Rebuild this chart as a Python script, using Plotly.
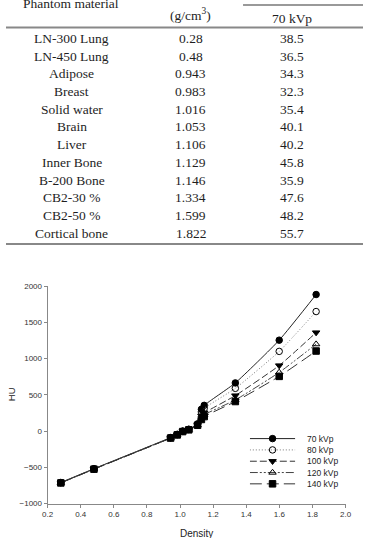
import plotly.graph_objects as go

W, H = 369, 538

# ---------------- data ----------------
materials = ["LN-300 Lung", "LN-450 Lung", "Adipose", "Breast", "Solid water", "Brain",
             "Liver", "Inner Bone", "B-200 Bone", "CB2-30 %", "CB2-50 %", "Cortical bone"]
density_labels = ["0.28", "0.48", "0.943", "0.983", "1.016", "1.053",
                  "1.106", "1.129", "1.146", "1.334", "1.599", "1.822"]
table_70kvp = ["38.5", "36.5", "34.3", "32.3", "35.4", "40.1",
               "40.2", "45.8", "35.9", "47.6", "48.2", "55.7"]

densities = [0.28, 0.48, 0.943, 0.983, 1.016, 1.053, 1.106, 1.129, 1.146, 1.334, 1.599, 1.822]
hu_70 = [-710, -520, -90, -45, 0, 25, 100, 300, 355, 665, 1255, 1885]
hu_80 = [-712, -522, -92, -48, -3, 22, 92, 265, 315, 590, 1100, 1650]
hu_100 = [-714, -524, -95, -50, -5, 20, 86, 210, 250, 490, 905, 1360]
hu_120 = [-715, -525, -96, -52, -6, 18, 82, 185, 225, 430, 810, 1200]
hu_140 = [-716, -526, -97, -53, -7, 17, 80, 160, 200, 408, 755, 1105]
series_names = ["70 kVp", "80 kVp", "100 kVp", "120 kVp", "140 kVp"]
series_values = [hu_70, hu_80, hu_100, hu_120, hu_140]

x_ticks = [0.2, 0.4, 0.6, 0.8, 1.0, 1.2, 1.4, 1.6, 1.8, 2.0]
y_ticks = [-1000, -500, 0, 500, 1000, 1500, 2000]

# ---------------- styles ----------------
styles = [
    dict(dash="solid", color="#222", symbol="circle", mcolor="#000"),
    dict(dash="1px,2px", color="#777", symbol="circle-open", mcolor="#000"),
    dict(dash="7px,3px", color="#333", symbol="triangle-down", mcolor="#000"),
    dict(dash="8px,2px,2px,2px,2px,2px", color="#444", symbol="triangle-up-open", mcolor="#000"),
    dict(dash="12px,5px", color="#333", symbol="square", mcolor="#000"),
]

def py(p):
    return 1 - p / H

def px(p):
    return p / W

fig = go.Figure()

for name, vals, st in zip(series_names, series_values, styles):
    fig.add_trace(go.Scatter(
        x=densities, y=vals, mode="lines+markers", name=name, showlegend=False,
        line=dict(color=st["color"], width=1, dash=st["dash"], shape="spline", smoothing=0.5),
        marker=dict(symbol=st["symbol"], size=6.5, color=st["mcolor"],
                    line=dict(color=st["mcolor"], width=1)),
        xaxis="x", yaxis="y",
    ))

# custom compact legend (own axes)
for i, (name, st) in enumerate(zip(series_names, styles)):
    fig.add_trace(go.Scatter(
        x=[0, 1], y=[i, i], mode="lines", showlegend=False, hoverinfo="skip",
        line=dict(color=st["color"], width=1, dash=st["dash"]),
        xaxis="x2", yaxis="y2",
    ))
    fig.add_trace(go.Scatter(
        x=[0.5], y=[i], mode="markers", showlegend=False, hoverinfo="skip",
        marker=dict(symbol=st["symbol"], size=6.5, color=st["mcolor"],
                    line=dict(color=st["mcolor"], width=1)),
        xaxis="x2", yaxis="y2",
    ))

annotations = []
serif = "Liberation Serif, Times New Roman, serif"
sans = "Liberation Sans, Arial, sans-serif"
tfont = dict(family=serif, size=13.5, color="#1e1e1e")

# table header
annotations.append(dict(x=px(67), y=py(-1), text="Phantom material", showarrow=False,
                        xref="paper", yref="paper", xanchor="center", yanchor="middle", font=tfont))
annotations.append(dict(x=px(191), y=py(11), text="(g/cm<sup>3</sup>)", showarrow=False,
                        xref="paper", yref="paper", xanchor="center", yanchor="middle", font=tfont))
annotations.append(dict(x=px(296), y=py(15), text="70 kVp", showarrow=False,
                        xref="paper", yref="paper", xanchor="center", yanchor="middle", font=tfont))
for i, (m, d, v) in enumerate(zip(materials, density_labels, table_70kvp)):
    yy = py(35 + 18 * i)
    for xx, t in ((68, m), (191, d), (296, v)):
        annotations.append(dict(x=px(xx), y=yy, text=t, showarrow=False, xref="paper", yref="paper",
                                xanchor="center", yanchor="middle", font=tfont))

# legend labels
for i, name in enumerate(series_names):
    annotations.append(dict(x=px(309), y=py(442 + 11.5 * i), text=name, showarrow=False,
                            xref="paper", yref="paper", xanchor="left", yanchor="middle",
                            font=dict(family=sans, size=8.5, color="#222")))

# axis titles
annotations.append(dict(x=px(6), y=py(397), text="HU", textangle=-90, showarrow=False,
                        xref="paper", yref="paper", xanchor="center", yanchor="middle",
                        font=dict(family=sans, size=9.5, color="#222")))
annotations.append(dict(x=px(197), y=py(531), text="Density", showarrow=False,
                        xref="paper", yref="paper", xanchor="center", yanchor="top",
                        font=dict(family=sans, size=10, color="#222")))

shapes = [
    dict(type="line", xref="paper", yref="paper", x0=px(245), x1=1, y0=py(1), y1=py(1),
         line=dict(color="#777", width=1.5)),
    dict(type="line", xref="paper", yref="paper", x0=0, x1=1, y0=py(24), y1=py(24),
         line=dict(color="#888", width=2)),
    dict(type="line", xref="paper", yref="paper", x0=0, x1=1, y0=py(244), y1=py(244),
         line=dict(color="#888", width=2)),
]

axfont = dict(family=sans, size=8, color="#333")
fig.update_layout(
    width=W, height=H, autosize=False,
    margin=dict(l=0, r=0, t=0, b=0, pad=0),
    paper_bgcolor="white", plot_bgcolor="white",
    showlegend=False,
    annotations=annotations, shapes=shapes,
    xaxis=dict(domain=[px(43), px(351)], range=[0.2, 2.0], tickvals=x_ticks,
               ticktext=[f"{v:.1f}" for v in x_ticks], showgrid=False, zeroline=False,
               showline=True, linecolor="#888", linewidth=1, ticks="outside", ticklen=3,
               tickcolor="#888", tickfont=axfont, anchor="y"),
    yaxis=dict(domain=[py(508), py(287)], range=[-1000, 2000], tickvals=y_ticks,
               showgrid=False, zeroline=False, showline=True, linecolor="#888", linewidth=1,
               ticks="outside", ticklen=3, tickcolor="#888", tickfont=axfont, anchor="x"),
    xaxis2=dict(domain=[px(252), px(299)], range=[0, 1], visible=False, anchor="y2"),
    yaxis2=dict(domain=[py(442 + 11.5 * 4.5), py(442 - 11.5 * 0.5)], range=[4.5, -0.5],
                visible=False, anchor="x2"),
)

fig.write_html("out.html")
